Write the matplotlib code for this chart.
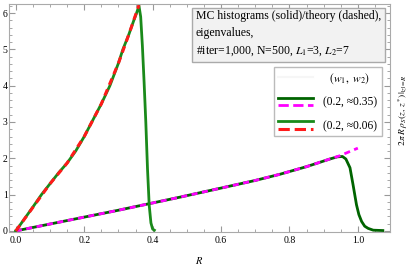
import numpy as np
import matplotlib
import matplotlib.pyplot as plt
from matplotlib.lines import Line2D
from matplotlib.legend_handler import HandlerBase
from matplotlib.ticker import MultipleLocator

matplotlib.use("Agg")

plt.rcParams['font.family'] = ['Liberation Serif', 'DejaVu Serif']
plt.rcParams['mathtext.fontset'] = 'stix'

# MC histogram, w2 ~ 0.06 (green)
r_hist_a = [0, 0.025, 0.05, 0.075, 0.1, 0.125, 0.15, 0.175, 0.2, 0.225, 0.25,
            0.275, 0.3, 0.313, 0.33, 0.345, 0.353, 0.36, 0.365, 0.37, 0.375,
            0.38, 0.385, 0.39, 0.395, 0.40, 0.405]
y_hist_a = [0, 0.33, 0.66, 1.0, 1.3, 1.6, 1.87, 2.2, 2.6, 3.05, 3.5,
            4.0, 4.62, 5.0, 5.4, 5.8, 6.0, 6.2, 5.9, 5.1, 4.1,
            3.0, 1.7, 0.7, 0.22, 0.05, 0.02]
# theory, w2 ~ 0.06 (red dashed)
r_theo_a = [0, 0.05, 0.1, 0.15, 0.2, 0.25, 0.3, 0.33, 0.36]
y_theo_a = [0, 0.65, 1.3, 1.87, 2.6, 3.5, 4.62, 5.4, 6.22]

# MC histogram, w2 ~ 0.35 (dark green)
r_hist_b = [0, 0.1, 0.2, 0.3, 0.4, 0.48, 0.6, 0.7, 0.772, 0.85, 0.918, 0.94,
            0.955, 0.965, 0.977, 0.986, 0.996, 1.003, 1.011, 1.02, 1.03, 1.045,
            1.073]
y_hist_b = [0, 0.19, 0.38, 0.57, 0.77, 0.93, 1.18, 1.39, 1.56, 1.77, 1.98, 2.04,
            2.05, 1.98, 1.74, 1.27, 0.72, 0.45, 0.26, 0.13, 0.07, 0.02,
            0.01]
# theory, w2 ~ 0.35 (magenta dashed)
r_theo_b = [0, 0.1, 0.2, 0.3, 0.4, 0.48, 0.6, 0.7, 0.772, 0.85, 0.918, 0.947, 1.0]
y_theo_b = [0, 0.19, 0.38, 0.57, 0.77, 0.93, 1.18, 1.39, 1.56, 1.77, 1.98, 2.07, 2.28]

legend_labels = [r'$\enspace\;(w_1,\ w_2)$', '(0.2, \u22480.35)', '(0.2, \u22480.06)']

fig = plt.figure(figsize=(4.15, 2.71), dpi=100)
ax = fig.add_axes([9 / 415, 1 - 232 / 271, 381 / 415, 228 / 271])

h_b, = ax.plot(r_hist_b, y_hist_b, color='#006400', lw=2.0)
t_b, = ax.plot(r_theo_b, y_theo_b, color='#ff00ff', lw=2.0, ls=(0, (2.2, 1.6)))
h_a, = ax.plot(r_hist_a, y_hist_a, color='#1a8a1a', lw=2.0)
t_a, = ax.plot(r_theo_a, y_theo_a, color='#ff1a1a', lw=2.2, ls=(0, (2.2, 1.6)))

ax.set_xlim(-0.02, 1.094)
ax.set_ylim(-0.03, 6.25)
ax.xaxis.set_major_locator(MultipleLocator(0.2))
ax.xaxis.set_minor_locator(MultipleLocator(0.05))
ax.yaxis.set_major_locator(MultipleLocator(1))
ax.yaxis.set_minor_locator(MultipleLocator(0.2))
ax.xaxis.set_major_formatter(matplotlib.ticker.FormatStrFormatter('%.1f'))
ax.tick_params(which='both', direction='in', top=True, right=True,
               color='#999999', labelsize=7, pad=3)
ax.tick_params(which='major', length=4)
ax.tick_params(which='minor', length=2.5)
ax.tick_params(axis='y', pad=1)
for s in ax.spines.values():
    s.set_color('#aaaaaa')
ax.set_xlabel('$R$', fontsize=7.5, labelpad=7)

fig.text(403 / 415, 1 - 110 / 271, r'$2\,\pi\,R\,\rho_S(z,\,z^*)|_{|z|=R}$',
         rotation=90, ha='center', va='center', fontsize=6.8)

ax.text(0.49, 0.972,
        'MC histograms (solid)/theory (dashed),\neigenvalues,\n'
        r'#iter=1,000, N=500, $L_1$=3, $L_2$=7',
        transform=ax.transAxes, ha='left', va='top', fontsize=8.5, linespacing=1.55,
        bbox=dict(boxstyle='square,pad=0.35', fc='#f2f2f2', ec='#aaaaaa', lw=1))


class StackHandler(HandlerBase):
    def create_artists(self, legend, orig_handle, xdescent, ydescent, width,
                       height, fontsize, trans):
        out = []
        if isinstance(orig_handle, tuple):
            pairs = ((orig_handle[0], 0.85), (orig_handle[1], 0.2))
        else:
            pairs = ((orig_handle, 0.55),)
        for h, f in pairs:
            y = height * f - ydescent
            ln = Line2D([-xdescent, width - xdescent], [y, y], color=h.get_color(),
                        ls=h.get_linestyle(), lw=h.get_linewidth())
            ln.set_transform(trans)
            out.append(ln)
        return out


header = Line2D([], [], color='#f6f6f6', lw=1.5)
leg = ax.legend([header, (h_b, t_b), (h_a, t_a)], legend_labels,
                handler_map={tuple: StackHandler(), Line2D: StackHandler()},
                loc='upper right', bbox_to_anchor=(0.978, 0.724), fontsize=8.3,
                frameon=True, fancybox=False, edgecolor='#aaaaaa',
                handlelength=3.1, handleheight=1.2, labelspacing=0.9,
                borderpad=0.35, borderaxespad=0, handletextpad=0.87)
leg.get_frame().set_linewidth(1)
leg.get_frame().set_facecolor('white')

fig.savefig('out.png', dpi=100)
